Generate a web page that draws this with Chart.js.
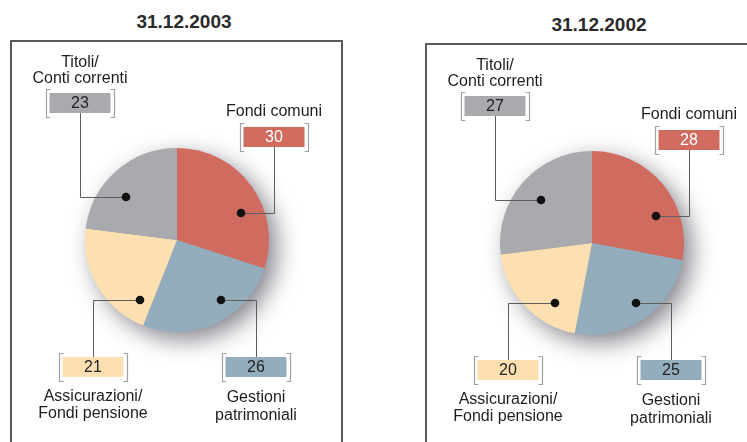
<!DOCTYPE html>
<html lang="it">
<head>
  <meta charset="UTF-8" />
  <title>Composizione patrimonio</title>
  <script src="https://cdn.jsdelivr.net/npm/chart.js"></script>
  <style>
    html, body {
      margin: 0;
      width: 747px;
      height: 442px;
      overflow: hidden;
      background: #ffffff;
      font-family: 'Liberation Sans', Arial, sans-serif;
    }
    .panel {
      position: absolute;
      width: 333px;
      height: 402px;
    }
    .frame {
      position: absolute;
      left: 0; top: 0;
      width: 329px;
      height: 420px;
      border: 2px solid #5a5a5a;
      border-bottom: none;
    }
    .title {
      position: absolute;
      left: 0;
      width: 348px;
      top: -30px;
      line-height: 24px;
      text-align: center;
      font-weight: bold;
      font-size: 19px;
      color: #2a2a2a;
    }
    canvas { position: absolute; left: 0; top: 0; }
  </style>
</head>
<body>
  <div class="panel" style="left:10px; top:40px">
    <div class="frame"></div>
    <div class="title" id="title0"></div>
    <canvas id="pie0" width="333" height="402"></canvas>
  </div>
  <div class="panel" style="left:425px; top:43px">
    <div class="frame"></div>
    <div class="title" id="title1"></div>
    <canvas id="pie1" width="333" height="402"></canvas>
  </div>

  <script>
    // data
    const periods = ['31.12.2003', '31.12.2002'];
    const categories = ['Fondi comuni', 'Gestioni patrimoniali', 'Assicurazioni/Fondi pensione', 'Titoli/Conti correnti'];
    const labelLines = [['Fondi comuni'], ['Gestioni', 'patrimoniali'], ['Assicurazioni/', 'Fondi pensione'], ['Titoli/', 'Conti correnti']];
    const values2003 = [30, 26, 21, 23];
    const values2002 = [28, 25, 20, 27];

    const colors = ['#d06b60', '#94adbd', '#fde0b1', '#a9aaae'];
    const numColors = ['#ffffff', '#222222', '#222222', '#222222'];

    // callout layout, px relative to the pie centre
    const callouts = [
      { box: [97, -103], dot: [64, -27], text: [-129] },
      { box: [79, 127], dot: [44, 60], text: [157, 175] },
      { box: [-84, 127], dot: [-37, 60], text: [156, 173] },
      { box: [-97, -137], dot: [-51, -43], text: [-178, -162] }
    ];

    const shadowPlugin = {
      id: 'pieShadow',
      beforeDatasetsDraw(chart) {
        const arc = chart.getDatasetMeta(0).data[0];
        if (!arc) return;
        const ctx = chart.ctx;
        ctx.save();
        ctx.shadowColor = 'rgba(40,40,55,0.6)';
        ctx.shadowBlur = 24;
        ctx.shadowOffsetX = 8;
        ctx.shadowOffsetY = 8;
        ctx.fillStyle = '#999';
        ctx.beginPath();
        ctx.arc(arc.x, arc.y, arc.outerRadius - 1, 0, Math.PI * 2);
        ctx.fill();
        ctx.restore();
      }
    };

    const calloutPlugin = {
      id: 'callouts',
      afterDraw(chart) {
        const ctx = chart.ctx;
        const meta = chart.getDatasetMeta(0);
        const vals = chart.data.datasets[0].data;
        meta.data.forEach((arc, i) => {
          const c = callouts[i];
          const bx = arc.x + c.box[0], by = arc.y + c.box[1];
          const dx = arc.x + c.dot[0], dy = arc.y + c.dot[1];
          const bw = 61, bh = 20;
          const edge = dy > by ? by + bh / 2 : by - bh / 2;

          ctx.save();
          // connector
          ctx.strokeStyle = '#5e5e5e';
          ctx.lineWidth = 1;
          ctx.beginPath();
          ctx.moveTo(Math.round(bx) + 0.5, edge);
          ctx.lineTo(Math.round(bx) + 0.5, Math.round(dy) + 0.5);
          ctx.lineTo(dx, Math.round(dy) + 0.5);
          ctx.stroke();
          // dot
          ctx.fillStyle = '#111111';
          ctx.beginPath();
          ctx.arc(dx, dy, 4.3, 0, Math.PI * 2);
          ctx.fill();

          // brackets
          const ow = 68, oh = 28, t = 4;
          const x0 = Math.round(bx - ow / 2) + 0.5, x1 = Math.round(bx + ow / 2) + 0.5;
          const y0 = Math.round(by - oh / 2) + 0.5, y1 = Math.round(by + oh / 2) + 0.5;
          ctx.strokeStyle = '#a2a2a2';
          ctx.lineWidth = 1.2;
          ctx.beginPath();
          ctx.moveTo(x0 + t, y0); ctx.lineTo(x0, y0); ctx.lineTo(x0, y1); ctx.lineTo(x0 + t, y1);
          ctx.moveTo(x1 - t, y0); ctx.lineTo(x1, y0); ctx.lineTo(x1, y1); ctx.lineTo(x1 - t, y1);
          ctx.stroke();

          // box
          ctx.fillStyle = colors[i];
          ctx.fillRect(bx - bw / 2, by - bh / 2, bw, bh);
          ctx.fillStyle = numColors[i];
          ctx.font = '16px "Liberation Sans", Arial, sans-serif';
          ctx.textAlign = 'center';
          ctx.textBaseline = 'middle';
          ctx.fillText(String(vals[i]), bx, by + 1);

          // label
          ctx.fillStyle = '#1e1e1e';
          ctx.font = '16px "Liberation Sans", Arial, sans-serif';
          labelLines[i].forEach((line, k) => {
            ctx.fillText(line, bx, arc.y + c.text[k] + 1);
          });
          ctx.restore();
        });
      }
    };

    function makePie(id, values) {
      return new Chart(document.getElementById(id), {
        type: 'pie',
        data: {
          labels: categories,
          datasets: [{
            data: values,
            backgroundColor: colors,
            borderWidth: 0,
            clip: false
          }]
        },
        options: {
          responsive: false,
          animation: false,
          layout: { padding: { left: 75, right: 74, top: 108, bottom: 110 } },
          plugins: {
            legend: { display: false },
            tooltip: { enabled: false }
          }
        },
        plugins: [shadowPlugin, calloutPlugin]
      });
    }

    document.getElementById('title0').textContent = periods[0];
    document.getElementById('title1').textContent = periods[1];
    makePie('pie0', values2003);
    makePie('pie1', values2002);
  </script>
</body>
</html>
